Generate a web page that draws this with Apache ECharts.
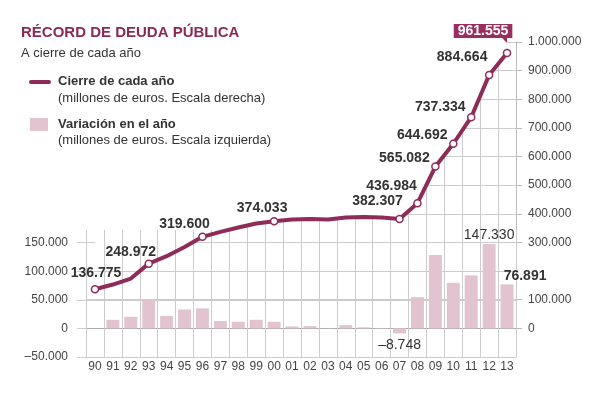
<!DOCTYPE html>
<html lang="es">
<head>
<meta charset="UTF-8">
<title>Récord de deuda pública</title>
<script src="https://cdn.jsdelivr.net/npm/echarts@6/dist/echarts.min.js"></script>
<style>
  html, body { margin: 0; padding: 0; background: #fff; }
  #main { width: 598px; height: 399px; }
</style>
</head>
<body>
<div id="main"></div>
<script>
// años (eje X)
var years = ['90','91','92','93','94','95','96','97','98','99','00','01','02','03','04','05','06','07','08','09','10','11','12','13'];
// deuda al cierre de cada año, millones de euros (escala derecha)
var debt = [136775, 153000, 174000, 226000, 252000, 284000, 319600, 337000, 352000, 366000, 374033, 380000, 382000, 380000, 387000, 389000, 387000, 382307, 436984, 565082, 644692, 737334, 884664, 961555];
// textos de las etiquetas de la línea
var debtLabels = ['136.775','','','248.972','','','319.600','','','','374.033','','','','','','','382.307','436.984','565.082','644.692','737.334','884.664','961.555'];
// variación en el año, millones de euros (escala izquierda)
var variation = [null, 15000, 20400, 50600, 22000, 33000, 35000, 12800, 11600, 15000, 11600, 3500, 4000, 500, 5800, 2000, 600, -8748, 54677, 128098, 79610, 92642, 147330, 76891];
var variationLabels = {'07': '\u20138.748', '12': '147.330', '13': '76.891'};
var leftTicks = [-50000, 0, 50000, 100000, 150000];
var rightTicks = [0, 100000, 300000, 400000, 500000, 600000, 700000, 800000, 900000, 1000000];

var FONT = '"Liberation Sans", Arial, sans-serif';
var WINE = '#8e2b58';
var PINK = '#e2c4d1';
var GRID = '#cccccc';

function fmt(v) {
    var s = String(Math.abs(v)).replace(/\B(?=(\d{3})+(?!\d))/g, '.');
    return v < 0 ? '\u2013' + s : s;
}

// desplazamiento de cada etiqueta de la línea respecto al punto
var labelOffset = {
    '90': [1, -16], '93': [-18, -12], '96': [-18, -13], '00': [-12, -13],
    '07': [-22, -18], '08': [-26, -17], '09': [-31, -8], '10': [-31, -9],
    '11': [-31, -10], '12': [-27, -18], '13': [-24, -22]
};

var lastIdx = debt.length - 1;

var lineData = debt.map(function (v, i) {
    var txt = debtLabels[i];
    var item = { value: v, symbol: txt ? 'circle' : 'none' };
    if (txt) {
        var last = i === lastIdx;
        item.label = {
            show: true,
            position: 'inside',
            offset: labelOffset[years[i]],
            formatter: txt,
            fontFamily: FONT,
            fontSize: 14,
            fontWeight: 'bold',
            lineHeight: last ? 14 : 16,
            color: last ? '#fff' : '#333',
            backgroundColor: last ? '#9a2f5f' : 'transparent',
            padding: last ? [0, 4, 0, 4] : 0
        };
    }
    return item;
});

var barData = variation.map(function (v, i) {
    var y = years[i];
    var item = { value: v };
    if (variationLabels[y]) {
        var lab = { show: true, formatter: variationLabels[y], fontFamily: FONT, fontSize: 14, color: '#333' };
        if (y === '12') { lab.position = 'top'; lab.distance = 2; }
        if (y === '07') { lab.position = 'bottom'; lab.distance = 5; }
        if (y === '13') { lab.position = 'top'; lab.offset = [18, 4]; lab.fontWeight = 'bold'; }
        item.label = lab;
    }
    return item;
});

var chart = echarts.init(document.getElementById('main'), null, { renderer: 'canvas' });

var half = 430 / 24 / 2;

chart.setOption({
    animation: false,
    textStyle: { fontFamily: FONT },
    grid: [
        // línea (puntos en el centro de cada categoría)
        { left: 86 + half, right: 82 + half, top: 42, bottom: 42 },
        // marco completo: eje derecho y rejilla
        { left: 86, right: 82, top: 42, bottom: 42 },
        // zona inferior: barras y eje izquierdo
        { left: 86, right: 82, top: 230, bottom: 42 }
    ],
    xAxis: [
        { gridIndex: 0, type: 'category', data: years, boundaryGap: false,
          axisLine: { show: false }, axisTick: { show: false }, axisLabel: { show: false }, splitLine: { show: false } },
        { gridIndex: 1, type: 'category', data: years, boundaryGap: true,
          axisLine: { show: false }, axisTick: { show: false }, axisLabel: { show: false },
          splitLine: { show: true, interval: function (idx) { return idx !== 0; }, lineStyle: { color: GRID, width: 1 } } },
        { gridIndex: 2, type: 'category', data: years, boundaryGap: true, z: 2,
          axisLine: { show: false }, axisTick: { show: false },
          axisLabel: { color: '#444', fontSize: 12, margin: 4, interval: 0 },
          splitLine: { show: true, lineStyle: { color: GRID, width: 1 } } }
    ],
    yAxis: [
        { gridIndex: 0, type: 'value', min: -100000, max: 1000000, interval: 100000,
          axisLine: { show: false }, axisTick: { show: false }, axisLabel: { show: false },
          splitLine: { show: false } },
        { gridIndex: 1, type: 'value', position: 'right', min: -100000, max: 1000000, interval: 100000,
          axisLine: { show: true, lineStyle: { color: '#bbb' } },
          axisTick: { show: true, length: 6, lineStyle: { color: '#bbb' }, customValues: rightTicks },
          axisLabel: { color: '#444', fontSize: 12, margin: 12, customValues: rightTicks,
                       formatter: function (v) { return (v < 0 || v === 200000) ? '' : fmt(v); } },
          splitLine: { show: true, lineStyle: { color: GRID, width: 1 } } },
        { gridIndex: 2, type: 'value', min: -50000, max: 172000, interval: 50000, z: 2,
          axisLine: { show: false },
          axisTick: { show: true, length: 9, lineStyle: { color: GRID }, customValues: leftTicks },
          axisLabel: { color: '#444', fontSize: 12, margin: 18, customValues: leftTicks,
                       formatter: function (v) { return v > 150000 ? '' : fmt(v); } },
          splitLine: { show: true, showMaxLine: false, lineStyle: { color: [GRID, '#aaa', GRID, GRID, GRID, GRID] } } }
    ],
    series: [
        {   // tapa blanca por encima de la línea: oculta la rejilla superior
            type: 'line', xAxisIndex: 0, yAxisIndex: 0, data: debt, z: 1, silent: true,
            symbol: 'none', lineStyle: { width: 0, opacity: 0 },
            areaStyle: { color: '#fff', opacity: 1, origin: 'end' }
        },
        {
            name: 'Variación en el año', type: 'bar', xAxisIndex: 2, yAxisIndex: 2, z: 3,
            data: barData, barWidth: 13, itemStyle: { color: PINK }
        },
        {
            name: 'Cierre de cada año', type: 'line', xAxisIndex: 0, yAxisIndex: 0, z: 4,
            data: lineData, showAllSymbol: true, symbolSize: 7,
            lineStyle: { color: WINE, width: 4, join: 'round', cap: 'round' },
            itemStyle: { color: '#fff', borderColor: WINE, borderWidth: 1.5 },
            // piquito del recuadro del último valor
            markPoint: {
                silent: true,
                symbol: 'path://M0,0 L10,0 L10,10 Z',
                symbolSize: [6, 6],
                symbolOffset: [-3, -13],
                itemStyle: { color: '#9a2f5f', borderWidth: 0 },
                label: { show: false },
                data: [{ coord: [years[lastIdx], debt[lastIdx]] }]
            }
        }
    ],
    graphic: [
        // tapa del tramo izquierdo de la rejilla superior
        { type: 'rect', z: 1, shape: { x: 84, y: 40, width: 11.5, height: 189.5 }, style: { fill: '#fff' } },
        { type: 'text', z: 100, left: 21, top: 25, style: { text: 'RÉCORD DE DEUDA PÚBLICA', fill: '#8b2a56', font: 'bold 15px ' + FONT } },
        { type: 'text', z: 100, left: 21, top: 47, style: { text: 'A cierre de cada año', fill: '#333', font: '13px ' + FONT } },
        { type: 'rect', z: 100, shape: { x: 29, y: 80, width: 22, height: 4, r: 2 }, style: { fill: WINE } },
        { type: 'text', z: 100, left: 58, top: 75, style: { text: 'Cierre de cada año', fill: '#333', font: 'bold 13px ' + FONT } },
        { type: 'text', z: 100, left: 58, top: 92, style: { text: '(millones de euros. Escala derecha)', fill: '#333', font: '13px ' + FONT } },
        { type: 'rect', z: 100, shape: { x: 30, y: 118, width: 18, height: 13 }, style: { fill: PINK } },
        { type: 'text', z: 100, left: 58, top: 118, style: { text: 'Variación en el año', fill: '#333', font: 'bold 13px ' + FONT } },
        { type: 'text', z: 100, left: 58, top: 134, style: { text: '(millones de euros. Escala izquierda)', fill: '#333', font: '13px ' + FONT } }
    ]
});
</script>
</body>
</html>
